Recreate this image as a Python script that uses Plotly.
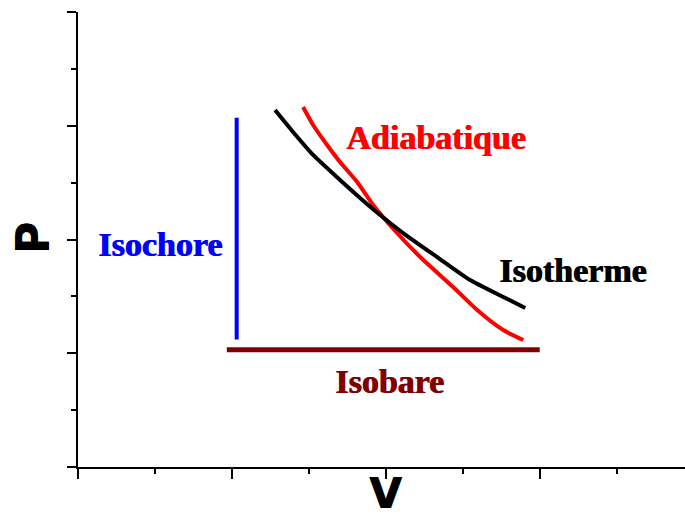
import plotly.graph_objects as go

# Isotherme (black) points
iso_t_v = [1.279, 1.396, 1.526, 1.701, 1.831, 1.961, 2.110, 2.331, 2.545, 2.760, 2.903]
iso_t_p = [3.138, 2.945, 2.743, 2.523, 2.365, 2.215, 2.057, 1.846, 1.644, 1.495, 1.398]

# Adiabatique (red)
adia_v = [1.461, 1.526, 1.617, 1.701, 1.812, 1.916, 2.071, 2.221, 2.435, 2.591, 2.760, 2.890]
adia_p = [3.165, 3.007, 2.831, 2.681, 2.505, 2.303, 2.057, 1.846, 1.582, 1.380, 1.204, 1.116]

# Isochore (blue)
isoc_v = [1.03, 1.03]
isoc_p = [1.12, 3.07]

# Isobare (dark red)
isob_v = [0.966, 2.997]
isob_p = [1.03, 1.03]

fig = go.Figure()
fig.add_trace(go.Scatter(x=isoc_v, y=isoc_p, mode="lines",
                         line=dict(color="#0000FF", width=4), showlegend=False))
fig.add_trace(go.Scatter(x=isob_v, y=isob_p, mode="lines",
                         line=dict(color="#800000", width=5), showlegend=False))
fig.add_trace(go.Scatter(x=adia_v, y=adia_p, mode="lines",
                         line=dict(color="#FF0000", width=4, shape="spline", smoothing=0.6),
                         showlegend=False))
fig.add_trace(go.Scatter(x=iso_t_v, y=iso_t_p, mode="lines",
                         line=dict(color="#000000", width=4, shape="spline", smoothing=0.6),
                         showlegend=False))

lab_font = "Liberation Serif, Times New Roman, serif"


def label(x, y, text, color):
    fig.add_annotation(x=x, y=y, text="<b>" + text + "</b>", showarrow=False,
                       xanchor="center", yanchor="middle",
                       font=dict(family=lab_font, size=34, color=color,
                                 shadow="1px 0px 0px " + color))


label(2.325, 2.90, "Adiabatique", "#FF0000")
label(3.208, 1.73, "Isotherme", "#000000")
label(0.532, 1.96, "Isochore", "#0000FF")
label(2.019, 0.756, "Isobare", "#800000")

ax_font = "DejaVu Sans, Arial, sans-serif"
fig.add_annotation(xref="paper", yref="paper", x=0.506, y=-0.058, text="<b>V</b>",
                   xanchor="center", yanchor="middle",
                   showarrow=False, font=dict(family=ax_font, size=42, color="black",
                                              shadow="1px 0px 0px black"))
fig.add_annotation(xref="paper", yref="paper", x=-0.076, y=0.503, text="<b>P</b>",
                   xanchor="center", yanchor="middle",
                   textangle=-90, showarrow=False,
                   font=dict(family=ax_font, size=44, color="black",
                             shadow="0px 1px 0px black"))

fig.update_layout(
    width=685, height=517,
    margin=dict(l=78, r=0, t=12, b=50),
    plot_bgcolor="white", paper_bgcolor="white",
    xaxis=dict(range=[0, 3.94], showgrid=False, zeroline=False, showticklabels=False,
               showline=True, linecolor="black", linewidth=2,
               ticks="outside", ticklen=10, tickwidth=2, tickcolor="black", dtick=1, tick0=0,
               minor=dict(ticks="outside", ticklen=5, tickwidth=2, tickcolor="black", dtick=0.5)),
    yaxis=dict(range=[0, 4], showgrid=False, zeroline=False, showticklabels=False,
               showline=True, linecolor="black", linewidth=2,
               ticks="outside", ticklen=9, tickwidth=2, tickcolor="black", dtick=1, tick0=0,
               minor=dict(ticks="outside", ticklen=5, tickwidth=2, tickcolor="black", dtick=0.5)),
)

fig.write_html("out.html", config={"displayModeBar": False},
               post_script="document.body.style.margin='0';")
